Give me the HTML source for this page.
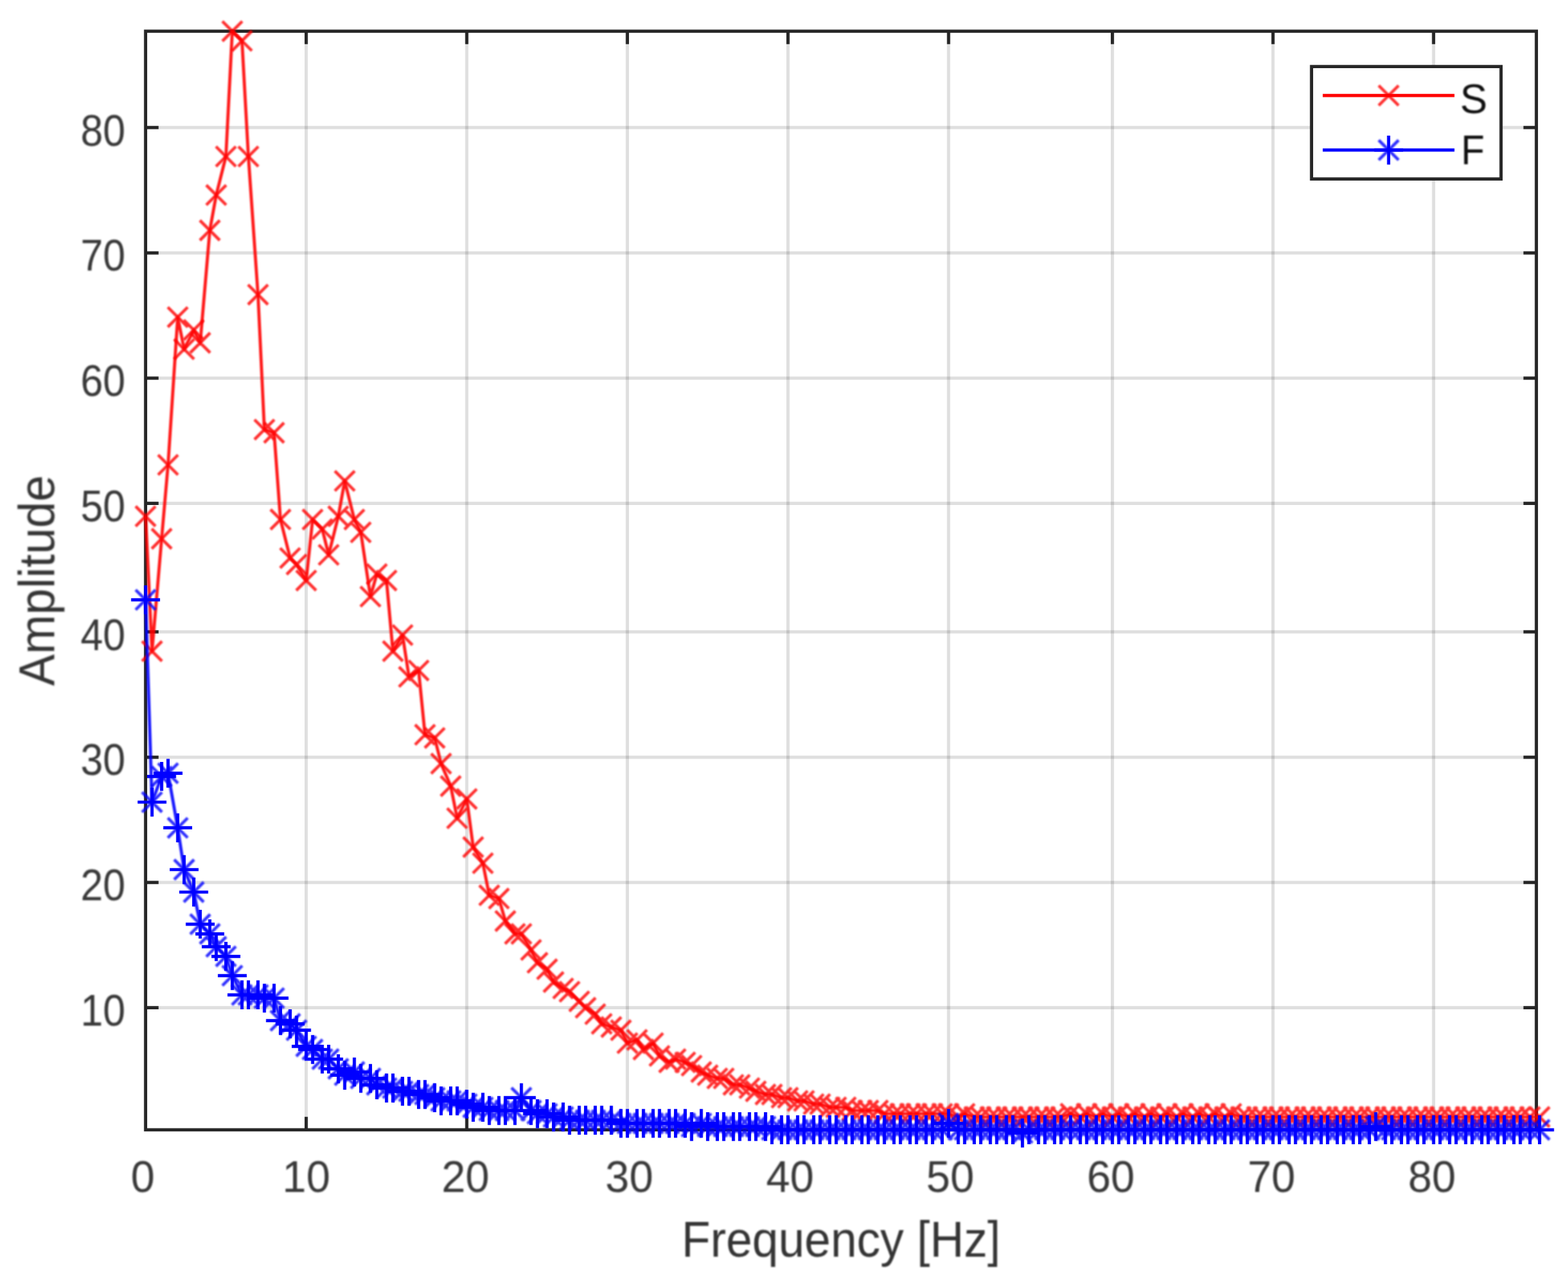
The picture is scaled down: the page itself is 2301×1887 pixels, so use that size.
<!DOCTYPE html>
<html lang="en"><head><meta charset="utf-8"><title>Frequency spectrum</title>
<style>html,body{margin:0;padding:0;background:#fff;}body{width:2301px;height:1887px;overflow:hidden;}svg{display:block;}text{font-family:"Liberation Sans", "DejaVu Sans", sans-serif;}</style>
</head><body>
<svg width="2301" height="1887" viewBox="0 0 2301 1887" role="img" aria-label="Amplitude spectrum of S and F versus frequency">
<rect x="0" y="0" width="2301" height="1887" fill="#ffffff"/>
<defs><filter id="soft" x="0" y="0" width="2301" height="1887" filterUnits="userSpaceOnUse"><feGaussianBlur stdDeviation="1.3"/></filter><filter id="softt" x="0" y="0" width="2301" height="1887" filterUnits="userSpaceOnUse"><feGaussianBlur stdDeviation="1.0"/></filter></defs>
<path d="M449.32 45.80V1657.82M685.00 45.80V1657.82M920.67 45.80V1657.82M1156.35 45.80V1657.82M1392.03 45.80V1657.82M1632.41 45.80V1657.82M1868.09 45.80V1657.82M2103.76 45.80V1657.82" stroke="#262626" stroke-opacity="0.15" stroke-width="4.71" fill="none"/>
<path d="M213.65 187.20H2254.60M213.65 371.03H2254.60M213.65 554.86H2254.60M213.65 738.68H2254.60M213.65 927.22H2254.60M213.65 1111.05H2254.60M213.65 1294.88H2254.60M213.65 1478.70H2254.60" stroke="#262626" stroke-opacity="0.15" stroke-width="4.71" fill="none"/>
<path d="M449.32 1657.82v-19.00M449.32 45.80v19.00M685.00 1657.82v-19.00M685.00 45.80v19.00M920.67 1657.82v-19.00M920.67 45.80v19.00M1156.35 1657.82v-19.00M1156.35 45.80v19.00M1392.03 1657.82v-19.00M1392.03 45.80v19.00M1632.41 1657.82v-19.00M1632.41 45.80v19.00M1868.09 1657.82v-19.00M1868.09 45.80v19.00M2103.76 1657.82v-19.00M2103.76 45.80v19.00M213.65 187.20h19.00M2254.60 187.20h-19.00M213.65 371.03h19.00M2254.60 371.03h-19.00M213.65 554.86h19.00M2254.60 554.86h-19.00M213.65 738.68h19.00M2254.60 738.68h-19.00M213.65 927.22h19.00M2254.60 927.22h-19.00M213.65 1111.05h19.00M2254.60 1111.05h-19.00M213.65 1294.88h19.00M2254.60 1294.88h-19.00M213.65 1478.70h19.00M2254.60 1478.70h-19.00" stroke="#262626" stroke-width="4.71" fill="none"/>
<rect x="213.65" y="45.80" width="2040.95" height="1612.02" fill="none" stroke="#262626" stroke-width="4.71"/>
<g fill="#262626" fill-opacity="0.92" font-size="65.40" filter="url(#softt)">
<text transform="translate(209.65 1748.90) scale(0.965 1)" text-anchor="middle">0</text>
<text transform="translate(449.43 1748.90) scale(0.965 1)" text-anchor="middle">10</text>
<text transform="translate(683.10 1748.90) scale(0.965 1)" text-anchor="middle">20</text>
<text transform="translate(923.38 1748.90) scale(0.965 1)" text-anchor="middle">30</text>
<text transform="translate(1159.35 1748.90) scale(0.965 1)" text-anchor="middle">40</text>
<text transform="translate(1394.43 1748.90) scale(0.965 1)" text-anchor="middle">50</text>
<text transform="translate(1630.01 1748.90) scale(0.965 1)" text-anchor="middle">60</text>
<text transform="translate(1865.79 1748.90) scale(0.965 1)" text-anchor="middle">70</text>
<text transform="translate(2101.36 1748.90) scale(0.965 1)" text-anchor="middle">80</text>
<text transform="translate(184.00 213.60) scale(0.905 1)" text-anchor="end">80</text>
<text transform="translate(184.00 397.43) scale(0.905 1)" text-anchor="end">70</text>
<text transform="translate(184.00 581.26) scale(0.905 1)" text-anchor="end">60</text>
<text transform="translate(184.00 765.08) scale(0.905 1)" text-anchor="end">50</text>
<text transform="translate(184.00 953.62) scale(0.905 1)" text-anchor="end">40</text>
<text transform="translate(184.00 1137.45) scale(0.905 1)" text-anchor="end">30</text>
<text transform="translate(184.00 1321.28) scale(0.905 1)" text-anchor="end">20</text>
<text transform="translate(184.00 1505.10) scale(0.905 1)" text-anchor="end">10</text>
</g>
<g fill="#262626" fill-opacity="0.94" font-size="73.20" filter="url(#softt)">
<text transform="translate(1234.20 1843.70) scale(0.943 1)" text-anchor="middle">Frequency [Hz]</text>
<text transform="translate(79.60 851.80) rotate(-90) scale(0.950 1)" text-anchor="middle">Amplitude</text>
</g>
<path d="M213.7 757.5L223.1 955.5L237.2 790.5L246.6 682.1L260.8 465.3L270.2 512.4L284.4 484.2L293.8 503.0L307.9 338.0L317.3 286.2L331.5 229.6L340.9 45.8L355.1 59.9L364.5 229.6L378.6 432.3L388.0 630.3L402.2 635.0L411.6 762.3L425.8 818.8L435.2 828.2L449.3 851.8L458.8 762.3L472.9 776.4L482.3 814.1L496.5 757.5L505.9 705.7L520.0 762.3L529.5 781.1L543.6 875.4L553.0 842.4L567.2 851.8L576.6 955.5L590.7 931.9L600.2 993.2L614.3 983.8L623.7 1078.1L637.9 1082.8L647.3 1120.5L661.4 1153.5L670.9 1200.6L685.0 1172.3L694.4 1243.0L708.6 1266.6L718.0 1313.7L732.1 1318.4L741.6 1351.4L755.7 1370.3L765.1 1370.3L779.3 1393.9L788.7 1412.7L802.8 1422.1L812.3 1441.0L826.4 1450.4L835.8 1455.1L850.0 1469.3L859.4 1478.7L873.5 1488.1L883.0 1502.3L897.1 1507.0L911.2 1511.7L920.7 1530.6L934.8 1525.8L944.2 1540.0L958.4 1530.6L967.8 1549.4L982.0 1558.8L991.4 1554.1L1005.5 1558.8L1014.9 1563.5L1029.1 1573.0L1038.5 1577.7L1052.7 1582.4L1062.1 1582.4L1076.2 1591.8L1085.6 1591.8L1099.8 1596.5L1109.2 1601.3L1123.4 1606.0L1132.8 1606.0L1146.9 1610.7L1156.3 1610.7L1170.5 1615.4L1179.9 1615.4L1194.1 1620.1L1203.5 1620.1L1217.6 1624.8L1227.1 1624.8L1241.2 1624.8L1250.6 1629.5L1264.8 1629.5L1274.2 1629.5L1288.3 1629.5L1297.8 1634.2L1311.9 1634.2L1321.3 1634.2L1335.5 1634.2L1344.9 1634.2L1359.0 1634.2L1368.5 1634.2L1382.6 1634.2L1392.0 1634.2L1406.2 1639.0L1415.6 1634.2L1429.7 1639.0L1439.2 1639.0L1453.3 1639.0L1462.7 1639.0L1476.9 1639.0L1486.3 1639.0L1500.4 1639.0L1509.9 1639.0L1524.0 1639.0L1533.4 1639.0L1547.6 1639.0L1557.0 1639.0L1571.1 1634.2L1585.3 1639.0L1594.7 1634.2L1608.8 1639.0L1618.3 1634.2L1632.4 1639.0L1641.8 1634.2L1656.0 1639.0L1665.4 1634.2L1679.5 1639.0L1689.0 1634.2L1703.1 1639.0L1712.5 1634.2L1726.7 1639.0L1736.1 1634.2L1750.3 1639.0L1759.7 1634.2L1773.8 1639.0L1783.2 1634.2L1797.4 1639.0L1806.8 1634.2L1821.0 1639.0L1830.4 1639.0L1844.5 1639.0L1853.9 1639.0L1868.1 1639.0L1877.5 1639.0L1891.7 1639.0L1901.1 1639.0L1915.2 1639.0L1924.7 1639.0L1938.8 1639.0L1948.2 1639.0L1962.4 1639.0L1971.8 1639.0L1985.9 1639.0L1995.4 1639.0L2009.5 1639.0L2018.9 1639.0L2033.1 1639.0L2042.5 1639.0L2056.6 1639.0L2066.1 1639.0L2080.2 1639.0L2089.6 1639.0L2103.8 1639.0L2113.2 1639.0L2127.3 1639.0L2136.8 1639.0L2150.9 1639.0L2160.3 1639.0L2174.5 1639.0L2183.9 1639.0L2198.0 1639.0L2207.5 1639.0L2221.6 1639.0L2231.0 1639.0L2245.2 1639.0L2259.3 1639.0" stroke="#ff0000" stroke-width="4.6" stroke-opacity="0.9" fill="none" stroke-linejoin="round" filter="url(#soft)"/>
<path d="M199.0 742.9l29.2 29.2M199.0 772.2l29.2 -29.2M208.5 940.9l29.2 29.2M208.5 970.1l29.2 -29.2M222.6 775.9l29.2 29.2M222.6 805.1l29.2 -29.2M232.0 667.5l29.2 29.2M232.0 696.7l29.2 -29.2M246.2 450.7l29.2 29.2M246.2 479.9l29.2 -29.2M255.6 497.8l29.2 29.2M255.6 527.0l29.2 -29.2M269.7 469.5l29.2 29.2M269.7 498.8l29.2 -29.2M279.2 488.4l29.2 29.2M279.2 517.6l29.2 -29.2M293.3 323.4l29.2 29.2M293.3 352.6l29.2 -29.2M302.7 271.6l29.2 29.2M302.7 300.8l29.2 -29.2M316.9 215.0l29.2 29.2M316.9 244.2l29.2 -29.2M326.3 31.2l29.2 29.2M326.3 60.4l29.2 -29.2M340.4 45.3l29.2 29.2M340.4 74.6l29.2 -29.2M349.9 215.0l29.2 29.2M349.9 244.2l29.2 -29.2M364.0 417.7l29.2 29.2M364.0 446.9l29.2 -29.2M373.4 615.7l29.2 29.2M373.4 644.9l29.2 -29.2M387.6 620.4l29.2 29.2M387.6 649.6l29.2 -29.2M397.0 747.6l29.2 29.2M397.0 776.9l29.2 -29.2M411.1 804.2l29.2 29.2M411.1 833.4l29.2 -29.2M420.6 813.6l29.2 29.2M420.6 842.9l29.2 -29.2M434.7 837.2l29.2 29.2M434.7 866.4l29.2 -29.2M444.1 747.6l29.2 29.2M444.1 776.9l29.2 -29.2M458.3 761.8l29.2 29.2M458.3 791.0l29.2 -29.2M467.7 799.5l29.2 29.2M467.7 828.7l29.2 -29.2M481.8 742.9l29.2 29.2M481.8 772.2l29.2 -29.2M491.3 691.1l29.2 29.2M491.3 720.3l29.2 -29.2M505.4 747.6l29.2 29.2M505.4 776.9l29.2 -29.2M514.8 766.5l29.2 29.2M514.8 795.7l29.2 -29.2M529.0 860.8l29.2 29.2M529.0 890.0l29.2 -29.2M538.4 827.8l29.2 29.2M538.4 857.0l29.2 -29.2M552.6 837.2l29.2 29.2M552.6 866.4l29.2 -29.2M562.0 940.9l29.2 29.2M562.0 970.1l29.2 -29.2M576.1 917.3l29.2 29.2M576.1 946.5l29.2 -29.2M585.5 978.6l29.2 29.2M585.5 1007.8l29.2 -29.2M599.7 969.2l29.2 29.2M599.7 998.4l29.2 -29.2M609.1 1063.4l29.2 29.2M609.1 1092.7l29.2 -29.2M623.3 1068.2l29.2 29.2M623.3 1097.4l29.2 -29.2M632.7 1105.9l29.2 29.2M632.7 1135.1l29.2 -29.2M646.8 1138.9l29.2 29.2M646.8 1168.1l29.2 -29.2M656.2 1186.0l29.2 29.2M656.2 1215.2l29.2 -29.2M670.4 1157.7l29.2 29.2M670.4 1186.9l29.2 -29.2M679.8 1228.4l29.2 29.2M679.8 1257.6l29.2 -29.2M694.0 1252.0l29.2 29.2M694.0 1281.2l29.2 -29.2M703.4 1299.1l29.2 29.2M703.4 1328.3l29.2 -29.2M717.5 1303.8l29.2 29.2M717.5 1333.1l29.2 -29.2M727.0 1336.8l29.2 29.2M727.0 1366.1l29.2 -29.2M741.1 1355.7l29.2 29.2M741.1 1384.9l29.2 -29.2M750.5 1355.7l29.2 29.2M750.5 1384.9l29.2 -29.2M764.7 1379.2l29.2 29.2M764.7 1408.5l29.2 -29.2M774.1 1398.1l29.2 29.2M774.1 1427.3l29.2 -29.2M788.2 1407.5l29.2 29.2M788.2 1436.8l29.2 -29.2M797.7 1426.4l29.2 29.2M797.7 1455.6l29.2 -29.2M811.8 1435.8l29.2 29.2M811.8 1465.0l29.2 -29.2M821.2 1440.5l29.2 29.2M821.2 1469.7l29.2 -29.2M835.4 1454.7l29.2 29.2M835.4 1483.9l29.2 -29.2M844.8 1464.1l29.2 29.2M844.8 1493.3l29.2 -29.2M858.9 1473.5l29.2 29.2M858.9 1502.7l29.2 -29.2M868.4 1487.7l29.2 29.2M868.4 1516.9l29.2 -29.2M882.5 1492.4l29.2 29.2M882.5 1521.6l29.2 -29.2M896.6 1497.1l29.2 29.2M896.6 1526.3l29.2 -29.2M906.1 1515.9l29.2 29.2M906.1 1545.2l29.2 -29.2M920.2 1511.2l29.2 29.2M920.2 1540.5l29.2 -29.2M929.6 1525.4l29.2 29.2M929.6 1554.6l29.2 -29.2M943.8 1515.9l29.2 29.2M943.8 1545.2l29.2 -29.2M953.2 1534.8l29.2 29.2M953.2 1564.0l29.2 -29.2M967.3 1544.2l29.2 29.2M967.3 1573.4l29.2 -29.2M976.8 1539.5l29.2 29.2M976.8 1568.7l29.2 -29.2M990.9 1544.2l29.2 29.2M990.9 1573.4l29.2 -29.2M1000.3 1548.9l29.2 29.2M1000.3 1578.2l29.2 -29.2M1014.5 1558.4l29.2 29.2M1014.5 1587.6l29.2 -29.2M1023.9 1563.1l29.2 29.2M1023.9 1592.3l29.2 -29.2M1038.0 1567.8l29.2 29.2M1038.0 1597.0l29.2 -29.2M1047.5 1567.8l29.2 29.2M1047.5 1597.0l29.2 -29.2M1061.6 1577.2l29.2 29.2M1061.6 1606.4l29.2 -29.2M1071.0 1577.2l29.2 29.2M1071.0 1606.4l29.2 -29.2M1085.2 1581.9l29.2 29.2M1085.2 1611.2l29.2 -29.2M1094.6 1586.6l29.2 29.2M1094.6 1615.9l29.2 -29.2M1108.7 1591.4l29.2 29.2M1108.7 1620.6l29.2 -29.2M1118.2 1591.4l29.2 29.2M1118.2 1620.6l29.2 -29.2M1132.3 1596.1l29.2 29.2M1132.3 1625.3l29.2 -29.2M1141.7 1596.1l29.2 29.2M1141.7 1625.3l29.2 -29.2M1155.9 1600.8l29.2 29.2M1155.9 1630.0l29.2 -29.2M1165.3 1600.8l29.2 29.2M1165.3 1630.0l29.2 -29.2M1179.4 1605.5l29.2 29.2M1179.4 1634.7l29.2 -29.2M1188.9 1605.5l29.2 29.2M1188.9 1634.7l29.2 -29.2M1203.0 1610.2l29.2 29.2M1203.0 1639.4l29.2 -29.2M1212.4 1610.2l29.2 29.2M1212.4 1639.4l29.2 -29.2M1226.6 1610.2l29.2 29.2M1226.6 1639.4l29.2 -29.2M1236.0 1614.9l29.2 29.2M1236.0 1644.1l29.2 -29.2M1250.1 1614.9l29.2 29.2M1250.1 1644.1l29.2 -29.2M1259.6 1614.9l29.2 29.2M1259.6 1644.1l29.2 -29.2M1273.7 1614.9l29.2 29.2M1273.7 1644.1l29.2 -29.2M1283.1 1619.6l29.2 29.2M1283.1 1648.9l29.2 -29.2M1297.3 1619.6l29.2 29.2M1297.3 1648.9l29.2 -29.2M1306.7 1619.6l29.2 29.2M1306.7 1648.9l29.2 -29.2M1320.9 1619.6l29.2 29.2M1320.9 1648.9l29.2 -29.2M1330.3 1619.6l29.2 29.2M1330.3 1648.9l29.2 -29.2M1344.4 1619.6l29.2 29.2M1344.4 1648.9l29.2 -29.2M1353.8 1619.6l29.2 29.2M1353.8 1648.9l29.2 -29.2M1368.0 1619.6l29.2 29.2M1368.0 1648.9l29.2 -29.2M1377.4 1619.6l29.2 29.2M1377.4 1648.9l29.2 -29.2M1391.6 1624.4l29.2 29.2M1391.6 1653.6l29.2 -29.2M1401.0 1619.6l29.2 29.2M1401.0 1648.9l29.2 -29.2M1415.1 1624.4l29.2 29.2M1415.1 1653.6l29.2 -29.2M1424.5 1624.4l29.2 29.2M1424.5 1653.6l29.2 -29.2M1438.7 1624.4l29.2 29.2M1438.7 1653.6l29.2 -29.2M1448.1 1624.4l29.2 29.2M1448.1 1653.6l29.2 -29.2M1462.3 1624.4l29.2 29.2M1462.3 1653.6l29.2 -29.2M1471.7 1624.4l29.2 29.2M1471.7 1653.6l29.2 -29.2M1485.8 1624.4l29.2 29.2M1485.8 1653.6l29.2 -29.2M1495.3 1624.4l29.2 29.2M1495.3 1653.6l29.2 -29.2M1509.4 1624.4l29.2 29.2M1509.4 1653.6l29.2 -29.2M1518.8 1624.4l29.2 29.2M1518.8 1653.6l29.2 -29.2M1533.0 1624.4l29.2 29.2M1533.0 1653.6l29.2 -29.2M1542.4 1624.4l29.2 29.2M1542.4 1653.6l29.2 -29.2M1556.5 1619.6l29.2 29.2M1556.5 1648.9l29.2 -29.2M1570.7 1624.4l29.2 29.2M1570.7 1653.6l29.2 -29.2M1580.1 1619.6l29.2 29.2M1580.1 1648.9l29.2 -29.2M1594.2 1624.4l29.2 29.2M1594.2 1653.6l29.2 -29.2M1603.7 1619.6l29.2 29.2M1603.7 1648.9l29.2 -29.2M1617.8 1624.4l29.2 29.2M1617.8 1653.6l29.2 -29.2M1627.2 1619.6l29.2 29.2M1627.2 1648.9l29.2 -29.2M1641.4 1624.4l29.2 29.2M1641.4 1653.6l29.2 -29.2M1650.8 1619.6l29.2 29.2M1650.8 1648.9l29.2 -29.2M1664.9 1624.4l29.2 29.2M1664.9 1653.6l29.2 -29.2M1674.4 1619.6l29.2 29.2M1674.4 1648.9l29.2 -29.2M1688.5 1624.4l29.2 29.2M1688.5 1653.6l29.2 -29.2M1697.9 1619.6l29.2 29.2M1697.9 1648.9l29.2 -29.2M1712.1 1624.4l29.2 29.2M1712.1 1653.6l29.2 -29.2M1721.5 1619.6l29.2 29.2M1721.5 1648.9l29.2 -29.2M1735.6 1624.4l29.2 29.2M1735.6 1653.6l29.2 -29.2M1745.1 1619.6l29.2 29.2M1745.1 1648.9l29.2 -29.2M1759.2 1624.4l29.2 29.2M1759.2 1653.6l29.2 -29.2M1768.6 1619.6l29.2 29.2M1768.6 1648.9l29.2 -29.2M1782.8 1624.4l29.2 29.2M1782.8 1653.6l29.2 -29.2M1792.2 1619.6l29.2 29.2M1792.2 1648.9l29.2 -29.2M1806.3 1624.4l29.2 29.2M1806.3 1653.6l29.2 -29.2M1815.8 1624.4l29.2 29.2M1815.8 1653.6l29.2 -29.2M1829.9 1624.4l29.2 29.2M1829.9 1653.6l29.2 -29.2M1839.3 1624.4l29.2 29.2M1839.3 1653.6l29.2 -29.2M1853.5 1624.4l29.2 29.2M1853.5 1653.6l29.2 -29.2M1862.9 1624.4l29.2 29.2M1862.9 1653.6l29.2 -29.2M1877.0 1624.4l29.2 29.2M1877.0 1653.6l29.2 -29.2M1886.5 1624.4l29.2 29.2M1886.5 1653.6l29.2 -29.2M1900.6 1624.4l29.2 29.2M1900.6 1653.6l29.2 -29.2M1910.0 1624.4l29.2 29.2M1910.0 1653.6l29.2 -29.2M1924.2 1624.4l29.2 29.2M1924.2 1653.6l29.2 -29.2M1933.6 1624.4l29.2 29.2M1933.6 1653.6l29.2 -29.2M1947.7 1624.4l29.2 29.2M1947.7 1653.6l29.2 -29.2M1957.2 1624.4l29.2 29.2M1957.2 1653.6l29.2 -29.2M1971.3 1624.4l29.2 29.2M1971.3 1653.6l29.2 -29.2M1980.7 1624.4l29.2 29.2M1980.7 1653.6l29.2 -29.2M1994.9 1624.4l29.2 29.2M1994.9 1653.6l29.2 -29.2M2004.3 1624.4l29.2 29.2M2004.3 1653.6l29.2 -29.2M2018.4 1624.4l29.2 29.2M2018.4 1653.6l29.2 -29.2M2027.9 1624.4l29.2 29.2M2027.9 1653.6l29.2 -29.2M2042.0 1624.4l29.2 29.2M2042.0 1653.6l29.2 -29.2M2051.4 1624.4l29.2 29.2M2051.4 1653.6l29.2 -29.2M2065.6 1624.4l29.2 29.2M2065.6 1653.6l29.2 -29.2M2075.0 1624.4l29.2 29.2M2075.0 1653.6l29.2 -29.2M2089.2 1624.4l29.2 29.2M2089.2 1653.6l29.2 -29.2M2098.6 1624.4l29.2 29.2M2098.6 1653.6l29.2 -29.2M2112.7 1624.4l29.2 29.2M2112.7 1653.6l29.2 -29.2M2122.1 1624.4l29.2 29.2M2122.1 1653.6l29.2 -29.2M2136.3 1624.4l29.2 29.2M2136.3 1653.6l29.2 -29.2M2145.7 1624.4l29.2 29.2M2145.7 1653.6l29.2 -29.2M2159.9 1624.4l29.2 29.2M2159.9 1653.6l29.2 -29.2M2169.3 1624.4l29.2 29.2M2169.3 1653.6l29.2 -29.2M2183.4 1624.4l29.2 29.2M2183.4 1653.6l29.2 -29.2M2192.8 1624.4l29.2 29.2M2192.8 1653.6l29.2 -29.2M2207.0 1624.4l29.2 29.2M2207.0 1653.6l29.2 -29.2M2216.4 1624.4l29.2 29.2M2216.4 1653.6l29.2 -29.2M2230.6 1624.4l29.2 29.2M2230.6 1653.6l29.2 -29.2M2244.7 1624.4l29.2 29.2M2244.7 1653.6l29.2 -29.2" stroke="#ff0000" stroke-width="4.4" stroke-opacity="0.82" fill="none" filter="url(#soft)"/>
<path d="M213.7 880.1L223.1 1177.0L237.2 1139.3L246.6 1134.6L260.8 1214.7L270.2 1276.0L284.4 1309.0L293.8 1356.2L307.9 1370.3L317.3 1389.1L331.5 1403.3L340.9 1431.6L355.1 1459.8L364.5 1459.8L378.6 1459.8L388.0 1464.6L402.2 1464.6L411.6 1497.6L425.8 1502.3L435.2 1511.7L449.3 1535.3L458.8 1540.0L472.9 1554.1L482.3 1554.1L496.5 1568.3L505.9 1577.7L520.0 1573.0L529.5 1582.4L543.6 1582.4L553.0 1591.8L567.2 1596.5L576.6 1596.5L590.7 1601.3L600.2 1601.3L614.3 1606.0L623.7 1606.0L637.9 1610.7L647.3 1615.4L661.4 1615.4L670.9 1615.4L685.0 1620.1L694.4 1624.8L708.6 1624.8L718.0 1629.5L732.1 1629.5L741.6 1629.5L755.7 1629.5L765.1 1610.7L779.3 1629.5L788.7 1634.2L802.8 1634.2L812.3 1639.0L826.4 1639.0L835.8 1643.7L850.0 1643.7L859.4 1643.7L873.5 1643.7L883.0 1643.7L897.1 1643.7L911.2 1648.4L920.7 1648.4L934.8 1648.4L944.2 1648.4L958.4 1648.4L967.8 1648.4L982.0 1648.4L991.4 1648.4L1005.5 1648.4L1014.9 1653.1L1029.1 1648.4L1038.5 1653.1L1052.7 1653.1L1062.1 1653.1L1076.2 1653.1L1085.6 1653.1L1099.8 1653.1L1109.2 1653.1L1123.4 1653.1L1132.8 1657.8L1146.9 1657.8L1156.3 1657.8L1170.5 1657.8L1179.9 1657.8L1194.1 1657.8L1203.5 1657.8L1217.6 1657.8L1227.1 1657.8L1241.2 1657.8L1250.6 1657.8L1264.8 1657.8L1274.2 1657.8L1288.3 1657.8L1297.8 1657.8L1311.9 1657.8L1321.3 1657.8L1335.5 1657.8L1344.9 1657.8L1359.0 1657.8L1368.5 1657.8L1382.6 1657.8L1392.0 1648.4L1406.2 1657.8L1415.6 1657.8L1429.7 1657.8L1439.2 1657.8L1453.3 1657.8L1462.7 1657.8L1476.9 1657.8L1486.3 1657.8L1500.4 1662.5L1509.9 1657.8L1524.0 1657.8L1533.4 1657.8L1547.6 1657.8L1557.0 1657.8L1571.1 1657.8L1585.3 1657.8L1594.7 1657.8L1608.8 1657.8L1618.3 1657.8L1632.4 1657.8L1641.8 1657.8L1656.0 1657.8L1665.4 1657.8L1679.5 1657.8L1689.0 1657.8L1703.1 1657.8L1712.5 1657.8L1726.7 1657.8L1736.1 1657.8L1750.3 1657.8L1759.7 1657.8L1773.8 1657.8L1783.2 1657.8L1797.4 1657.8L1806.8 1657.8L1821.0 1657.8L1830.4 1657.8L1844.5 1657.8L1853.9 1657.8L1868.1 1657.8L1877.5 1657.8L1891.7 1657.8L1901.1 1657.8L1915.2 1657.8L1924.7 1657.8L1938.8 1657.8L1948.2 1657.8L1962.4 1657.8L1971.8 1657.8L1985.9 1657.8L1995.4 1657.8L2009.5 1657.8L2018.9 1653.1L2033.1 1657.8L2042.5 1657.8L2056.6 1657.8L2066.1 1657.8L2080.2 1657.8L2089.6 1657.8L2103.8 1657.8L2113.2 1657.8L2127.3 1657.8L2136.8 1657.8L2150.9 1657.8L2160.3 1657.8L2174.5 1657.8L2183.9 1657.8L2198.0 1657.8L2207.5 1657.8L2221.6 1657.8L2231.0 1657.8L2245.2 1657.8L2259.3 1657.8" stroke="#0000ff" stroke-width="4.6" stroke-opacity="0.9" fill="none" stroke-linejoin="round" filter="url(#soft)"/>
<path d="M199.0 865.5l29.2 29.2M199.0 894.7l29.2 -29.2M208.5 1162.4l29.2 29.2M208.5 1191.7l29.2 -29.2M222.6 1124.7l29.2 29.2M222.6 1153.9l29.2 -29.2M232.0 1120.0l29.2 29.2M232.0 1149.2l29.2 -29.2M246.2 1200.1l29.2 29.2M246.2 1229.4l29.2 -29.2M255.6 1261.4l29.2 29.2M255.6 1290.6l29.2 -29.2M269.7 1294.4l29.2 29.2M269.7 1323.6l29.2 -29.2M279.2 1341.5l29.2 29.2M279.2 1370.8l29.2 -29.2M293.3 1355.7l29.2 29.2M293.3 1384.9l29.2 -29.2M302.7 1374.5l29.2 29.2M302.7 1403.8l29.2 -29.2M316.9 1388.7l29.2 29.2M316.9 1417.9l29.2 -29.2M326.3 1417.0l29.2 29.2M326.3 1446.2l29.2 -29.2M340.4 1445.2l29.2 29.2M340.4 1474.5l29.2 -29.2M349.9 1445.2l29.2 29.2M349.9 1474.5l29.2 -29.2M364.0 1445.2l29.2 29.2M364.0 1474.5l29.2 -29.2M373.4 1450.0l29.2 29.2M373.4 1479.2l29.2 -29.2M387.6 1450.0l29.2 29.2M387.6 1479.2l29.2 -29.2M397.0 1482.9l29.2 29.2M397.0 1512.2l29.2 -29.2M411.1 1487.7l29.2 29.2M411.1 1516.9l29.2 -29.2M420.6 1497.1l29.2 29.2M420.6 1526.3l29.2 -29.2M434.7 1520.7l29.2 29.2M434.7 1549.9l29.2 -29.2M444.1 1525.4l29.2 29.2M444.1 1554.6l29.2 -29.2M458.3 1539.5l29.2 29.2M458.3 1568.7l29.2 -29.2M467.7 1539.5l29.2 29.2M467.7 1568.7l29.2 -29.2M481.8 1553.6l29.2 29.2M481.8 1582.9l29.2 -29.2M491.3 1563.1l29.2 29.2M491.3 1592.3l29.2 -29.2M505.4 1558.4l29.2 29.2M505.4 1587.6l29.2 -29.2M514.8 1567.8l29.2 29.2M514.8 1597.0l29.2 -29.2M529.0 1567.8l29.2 29.2M529.0 1597.0l29.2 -29.2M538.4 1577.2l29.2 29.2M538.4 1606.4l29.2 -29.2M552.6 1581.9l29.2 29.2M552.6 1611.2l29.2 -29.2M562.0 1581.9l29.2 29.2M562.0 1611.2l29.2 -29.2M576.1 1586.6l29.2 29.2M576.1 1615.9l29.2 -29.2M585.5 1586.6l29.2 29.2M585.5 1615.9l29.2 -29.2M599.7 1591.4l29.2 29.2M599.7 1620.6l29.2 -29.2M609.1 1591.4l29.2 29.2M609.1 1620.6l29.2 -29.2M623.3 1596.1l29.2 29.2M623.3 1625.3l29.2 -29.2M632.7 1600.8l29.2 29.2M632.7 1630.0l29.2 -29.2M646.8 1600.8l29.2 29.2M646.8 1630.0l29.2 -29.2M656.2 1600.8l29.2 29.2M656.2 1630.0l29.2 -29.2M670.4 1605.5l29.2 29.2M670.4 1634.7l29.2 -29.2M679.8 1610.2l29.2 29.2M679.8 1639.4l29.2 -29.2M694.0 1610.2l29.2 29.2M694.0 1639.4l29.2 -29.2M703.4 1614.9l29.2 29.2M703.4 1644.1l29.2 -29.2M717.5 1614.9l29.2 29.2M717.5 1644.1l29.2 -29.2M727.0 1614.9l29.2 29.2M727.0 1644.1l29.2 -29.2M741.1 1614.9l29.2 29.2M741.1 1644.1l29.2 -29.2M750.5 1596.1l29.2 29.2M750.5 1625.3l29.2 -29.2M764.7 1614.9l29.2 29.2M764.7 1644.1l29.2 -29.2M774.1 1619.6l29.2 29.2M774.1 1648.9l29.2 -29.2M788.2 1619.6l29.2 29.2M788.2 1648.9l29.2 -29.2M797.7 1624.4l29.2 29.2M797.7 1653.6l29.2 -29.2M811.8 1624.4l29.2 29.2M811.8 1653.6l29.2 -29.2M821.2 1629.1l29.2 29.2M821.2 1658.3l29.2 -29.2M835.4 1629.1l29.2 29.2M835.4 1658.3l29.2 -29.2M844.8 1629.1l29.2 29.2M844.8 1658.3l29.2 -29.2M858.9 1629.1l29.2 29.2M858.9 1658.3l29.2 -29.2M868.4 1629.1l29.2 29.2M868.4 1658.3l29.2 -29.2M882.5 1629.1l29.2 29.2M882.5 1658.3l29.2 -29.2M896.6 1633.8l29.2 29.2M896.6 1663.0l29.2 -29.2M906.1 1633.8l29.2 29.2M906.1 1663.0l29.2 -29.2M920.2 1633.8l29.2 29.2M920.2 1663.0l29.2 -29.2M929.6 1633.8l29.2 29.2M929.6 1663.0l29.2 -29.2M943.8 1633.8l29.2 29.2M943.8 1663.0l29.2 -29.2M953.2 1633.8l29.2 29.2M953.2 1663.0l29.2 -29.2M967.3 1633.8l29.2 29.2M967.3 1663.0l29.2 -29.2M976.8 1633.8l29.2 29.2M976.8 1663.0l29.2 -29.2M990.9 1633.8l29.2 29.2M990.9 1663.0l29.2 -29.2M1000.3 1638.5l29.2 29.2M1000.3 1667.7l29.2 -29.2M1014.5 1633.8l29.2 29.2M1014.5 1663.0l29.2 -29.2M1023.9 1638.5l29.2 29.2M1023.9 1667.7l29.2 -29.2M1038.0 1638.5l29.2 29.2M1038.0 1667.7l29.2 -29.2M1047.5 1638.5l29.2 29.2M1047.5 1667.7l29.2 -29.2M1061.6 1638.5l29.2 29.2M1061.6 1667.7l29.2 -29.2M1071.0 1638.5l29.2 29.2M1071.0 1667.7l29.2 -29.2M1085.2 1638.5l29.2 29.2M1085.2 1667.7l29.2 -29.2M1094.6 1638.5l29.2 29.2M1094.6 1667.7l29.2 -29.2M1108.7 1638.5l29.2 29.2M1108.7 1667.7l29.2 -29.2M1118.2 1643.2l29.2 29.2M1118.2 1672.4l29.2 -29.2M1132.3 1643.2l29.2 29.2M1132.3 1672.4l29.2 -29.2M1141.7 1643.2l29.2 29.2M1141.7 1672.4l29.2 -29.2M1155.9 1643.2l29.2 29.2M1155.9 1672.4l29.2 -29.2M1165.3 1643.2l29.2 29.2M1165.3 1672.4l29.2 -29.2M1179.4 1643.2l29.2 29.2M1179.4 1672.4l29.2 -29.2M1188.9 1643.2l29.2 29.2M1188.9 1672.4l29.2 -29.2M1203.0 1643.2l29.2 29.2M1203.0 1672.4l29.2 -29.2M1212.4 1643.2l29.2 29.2M1212.4 1672.4l29.2 -29.2M1226.6 1643.2l29.2 29.2M1226.6 1672.4l29.2 -29.2M1236.0 1643.2l29.2 29.2M1236.0 1672.4l29.2 -29.2M1250.1 1643.2l29.2 29.2M1250.1 1672.4l29.2 -29.2M1259.6 1643.2l29.2 29.2M1259.6 1672.4l29.2 -29.2M1273.7 1643.2l29.2 29.2M1273.7 1672.4l29.2 -29.2M1283.1 1643.2l29.2 29.2M1283.1 1672.4l29.2 -29.2M1297.3 1643.2l29.2 29.2M1297.3 1672.4l29.2 -29.2M1306.7 1643.2l29.2 29.2M1306.7 1672.4l29.2 -29.2M1320.9 1643.2l29.2 29.2M1320.9 1672.4l29.2 -29.2M1330.3 1643.2l29.2 29.2M1330.3 1672.4l29.2 -29.2M1344.4 1643.2l29.2 29.2M1344.4 1672.4l29.2 -29.2M1353.8 1643.2l29.2 29.2M1353.8 1672.4l29.2 -29.2M1368.0 1643.2l29.2 29.2M1368.0 1672.4l29.2 -29.2M1377.4 1633.8l29.2 29.2M1377.4 1663.0l29.2 -29.2M1391.6 1643.2l29.2 29.2M1391.6 1672.4l29.2 -29.2M1401.0 1643.2l29.2 29.2M1401.0 1672.4l29.2 -29.2M1415.1 1643.2l29.2 29.2M1415.1 1672.4l29.2 -29.2M1424.5 1643.2l29.2 29.2M1424.5 1672.4l29.2 -29.2M1438.7 1643.2l29.2 29.2M1438.7 1672.4l29.2 -29.2M1448.1 1643.2l29.2 29.2M1448.1 1672.4l29.2 -29.2M1462.3 1643.2l29.2 29.2M1462.3 1672.4l29.2 -29.2M1471.7 1643.2l29.2 29.2M1471.7 1672.4l29.2 -29.2M1485.8 1647.9l29.2 29.2M1485.8 1677.1l29.2 -29.2M1495.3 1643.2l29.2 29.2M1495.3 1672.4l29.2 -29.2M1509.4 1643.2l29.2 29.2M1509.4 1672.4l29.2 -29.2M1518.8 1643.2l29.2 29.2M1518.8 1672.4l29.2 -29.2M1533.0 1643.2l29.2 29.2M1533.0 1672.4l29.2 -29.2M1542.4 1643.2l29.2 29.2M1542.4 1672.4l29.2 -29.2M1556.5 1643.2l29.2 29.2M1556.5 1672.4l29.2 -29.2M1570.7 1643.2l29.2 29.2M1570.7 1672.4l29.2 -29.2M1580.1 1643.2l29.2 29.2M1580.1 1672.4l29.2 -29.2M1594.2 1643.2l29.2 29.2M1594.2 1672.4l29.2 -29.2M1603.7 1643.2l29.2 29.2M1603.7 1672.4l29.2 -29.2M1617.8 1643.2l29.2 29.2M1617.8 1672.4l29.2 -29.2M1627.2 1643.2l29.2 29.2M1627.2 1672.4l29.2 -29.2M1641.4 1643.2l29.2 29.2M1641.4 1672.4l29.2 -29.2M1650.8 1643.2l29.2 29.2M1650.8 1672.4l29.2 -29.2M1664.9 1643.2l29.2 29.2M1664.9 1672.4l29.2 -29.2M1674.4 1643.2l29.2 29.2M1674.4 1672.4l29.2 -29.2M1688.5 1643.2l29.2 29.2M1688.5 1672.4l29.2 -29.2M1697.9 1643.2l29.2 29.2M1697.9 1672.4l29.2 -29.2M1712.1 1643.2l29.2 29.2M1712.1 1672.4l29.2 -29.2M1721.5 1643.2l29.2 29.2M1721.5 1672.4l29.2 -29.2M1735.6 1643.2l29.2 29.2M1735.6 1672.4l29.2 -29.2M1745.1 1643.2l29.2 29.2M1745.1 1672.4l29.2 -29.2M1759.2 1643.2l29.2 29.2M1759.2 1672.4l29.2 -29.2M1768.6 1643.2l29.2 29.2M1768.6 1672.4l29.2 -29.2M1782.8 1643.2l29.2 29.2M1782.8 1672.4l29.2 -29.2M1792.2 1643.2l29.2 29.2M1792.2 1672.4l29.2 -29.2M1806.3 1643.2l29.2 29.2M1806.3 1672.4l29.2 -29.2M1815.8 1643.2l29.2 29.2M1815.8 1672.4l29.2 -29.2M1829.9 1643.2l29.2 29.2M1829.9 1672.4l29.2 -29.2M1839.3 1643.2l29.2 29.2M1839.3 1672.4l29.2 -29.2M1853.5 1643.2l29.2 29.2M1853.5 1672.4l29.2 -29.2M1862.9 1643.2l29.2 29.2M1862.9 1672.4l29.2 -29.2M1877.0 1643.2l29.2 29.2M1877.0 1672.4l29.2 -29.2M1886.5 1643.2l29.2 29.2M1886.5 1672.4l29.2 -29.2M1900.6 1643.2l29.2 29.2M1900.6 1672.4l29.2 -29.2M1910.0 1643.2l29.2 29.2M1910.0 1672.4l29.2 -29.2M1924.2 1643.2l29.2 29.2M1924.2 1672.4l29.2 -29.2M1933.6 1643.2l29.2 29.2M1933.6 1672.4l29.2 -29.2M1947.7 1643.2l29.2 29.2M1947.7 1672.4l29.2 -29.2M1957.2 1643.2l29.2 29.2M1957.2 1672.4l29.2 -29.2M1971.3 1643.2l29.2 29.2M1971.3 1672.4l29.2 -29.2M1980.7 1643.2l29.2 29.2M1980.7 1672.4l29.2 -29.2M1994.9 1643.2l29.2 29.2M1994.9 1672.4l29.2 -29.2M2004.3 1638.5l29.2 29.2M2004.3 1667.7l29.2 -29.2M2018.4 1643.2l29.2 29.2M2018.4 1672.4l29.2 -29.2M2027.9 1643.2l29.2 29.2M2027.9 1672.4l29.2 -29.2M2042.0 1643.2l29.2 29.2M2042.0 1672.4l29.2 -29.2M2051.4 1643.2l29.2 29.2M2051.4 1672.4l29.2 -29.2M2065.6 1643.2l29.2 29.2M2065.6 1672.4l29.2 -29.2M2075.0 1643.2l29.2 29.2M2075.0 1672.4l29.2 -29.2M2089.2 1643.2l29.2 29.2M2089.2 1672.4l29.2 -29.2M2098.6 1643.2l29.2 29.2M2098.6 1672.4l29.2 -29.2M2112.7 1643.2l29.2 29.2M2112.7 1672.4l29.2 -29.2M2122.1 1643.2l29.2 29.2M2122.1 1672.4l29.2 -29.2M2136.3 1643.2l29.2 29.2M2136.3 1672.4l29.2 -29.2M2145.7 1643.2l29.2 29.2M2145.7 1672.4l29.2 -29.2M2159.9 1643.2l29.2 29.2M2159.9 1672.4l29.2 -29.2M2169.3 1643.2l29.2 29.2M2169.3 1672.4l29.2 -29.2M2183.4 1643.2l29.2 29.2M2183.4 1672.4l29.2 -29.2M2192.8 1643.2l29.2 29.2M2192.8 1672.4l29.2 -29.2M2207.0 1643.2l29.2 29.2M2207.0 1672.4l29.2 -29.2M2216.4 1643.2l29.2 29.2M2216.4 1672.4l29.2 -29.2M2230.6 1643.2l29.2 29.2M2230.6 1672.4l29.2 -29.2M2244.7 1643.2l29.2 29.2M2244.7 1672.4l29.2 -29.2" stroke="#0000ff" stroke-width="4.4" stroke-opacity="0.82" fill="none" filter="url(#soft)"/>
<path d="M213.7 858.9v42.4M192.4 880.1h42.4M223.1 1155.8v42.4M201.9 1177.0h42.4M237.2 1118.1v42.4M216.0 1139.3h42.4M246.6 1113.4v42.4M225.4 1134.6h42.4M260.8 1193.5v42.4M239.6 1214.7h42.4M270.2 1254.8v42.4M249.0 1276.0h42.4M284.4 1287.8v42.4M263.1 1309.0h42.4M293.8 1334.9v42.4M272.6 1356.2h42.4M307.9 1349.1v42.4M286.7 1370.3h42.4M317.3 1367.9v42.4M296.1 1389.1h42.4M331.5 1382.1v42.4M310.3 1403.3h42.4M340.9 1410.4v42.4M319.7 1431.6h42.4M355.1 1438.6v42.4M333.8 1459.8h42.4M364.5 1438.6v42.4M343.3 1459.8h42.4M378.6 1438.6v42.4M357.4 1459.8h42.4M388.0 1443.4v42.4M366.8 1464.6h42.4M402.2 1443.4v42.4M381.0 1464.6h42.4M411.6 1476.3v42.4M390.4 1497.6h42.4M425.8 1481.1v42.4M404.5 1502.3h42.4M435.2 1490.5v42.4M414.0 1511.7h42.4M449.3 1514.1v42.4M428.1 1535.3h42.4M458.8 1518.8v42.4M437.5 1540.0h42.4M472.9 1532.9v42.4M451.7 1554.1h42.4M482.3 1532.9v42.4M461.1 1554.1h42.4M496.5 1547.0v42.4M475.2 1568.3h42.4M505.9 1556.5v42.4M484.7 1577.7h42.4M520.0 1551.8v42.4M498.8 1573.0h42.4M529.5 1561.2v42.4M508.2 1582.4h42.4M543.6 1561.2v42.4M522.4 1582.4h42.4M553.0 1570.6v42.4M531.8 1591.8h42.4M567.2 1575.3v42.4M546.0 1596.5h42.4M576.6 1575.3v42.4M555.4 1596.5h42.4M590.7 1580.0v42.4M569.5 1601.3h42.4M600.2 1580.0v42.4M578.9 1601.3h42.4M614.3 1584.8v42.4M593.1 1606.0h42.4M623.7 1584.8v42.4M602.5 1606.0h42.4M637.9 1589.5v42.4M616.7 1610.7h42.4M647.3 1594.2v42.4M626.1 1615.4h42.4M661.4 1594.2v42.4M640.2 1615.4h42.4M670.9 1594.2v42.4M649.6 1615.4h42.4M685.0 1598.9v42.4M663.8 1620.1h42.4M694.4 1603.6v42.4M673.2 1624.8h42.4M708.6 1603.6v42.4M687.4 1624.8h42.4M718.0 1608.3v42.4M696.8 1629.5h42.4M732.1 1608.3v42.4M710.9 1629.5h42.4M741.6 1608.3v42.4M720.4 1629.5h42.4M755.7 1608.3v42.4M734.5 1629.5h42.4M765.1 1589.5v42.4M743.9 1610.7h42.4M779.3 1608.3v42.4M758.1 1629.5h42.4M788.7 1613.0v42.4M767.5 1634.2h42.4M802.8 1613.0v42.4M781.6 1634.2h42.4M812.3 1617.8v42.4M791.1 1639.0h42.4M826.4 1617.8v42.4M805.2 1639.0h42.4M835.8 1622.5v42.4M814.6 1643.7h42.4M850.0 1622.5v42.4M828.8 1643.7h42.4M859.4 1622.5v42.4M838.2 1643.7h42.4M873.5 1622.5v42.4M852.3 1643.7h42.4M883.0 1622.5v42.4M861.8 1643.7h42.4M897.1 1622.5v42.4M875.9 1643.7h42.4M911.2 1627.2v42.4M890.0 1648.4h42.4M920.7 1627.2v42.4M899.5 1648.4h42.4M934.8 1627.2v42.4M913.6 1648.4h42.4M944.2 1627.2v42.4M923.0 1648.4h42.4M958.4 1627.2v42.4M937.2 1648.4h42.4M967.8 1627.2v42.4M946.6 1648.4h42.4M982.0 1627.2v42.4M960.7 1648.4h42.4M991.4 1627.2v42.4M970.2 1648.4h42.4M1005.5 1627.2v42.4M984.3 1648.4h42.4M1014.9 1631.9v42.4M993.7 1653.1h42.4M1029.1 1627.2v42.4M1007.9 1648.4h42.4M1038.5 1631.9v42.4M1017.3 1653.1h42.4M1052.7 1631.9v42.4M1031.4 1653.1h42.4M1062.1 1631.9v42.4M1040.9 1653.1h42.4M1076.2 1631.9v42.4M1055.0 1653.1h42.4M1085.6 1631.9v42.4M1064.4 1653.1h42.4M1099.8 1631.9v42.4M1078.6 1653.1h42.4M1109.2 1631.9v42.4M1088.0 1653.1h42.4M1123.4 1631.9v42.4M1102.1 1653.1h42.4M1132.8 1636.6v42.4M1111.6 1657.8h42.4M1146.9 1636.6v42.4M1125.7 1657.8h42.4M1156.3 1636.6v42.4M1135.1 1657.8h42.4M1170.5 1636.6v42.4M1149.3 1657.8h42.4M1179.9 1636.6v42.4M1158.7 1657.8h42.4M1194.1 1636.6v42.4M1172.8 1657.8h42.4M1203.5 1636.6v42.4M1182.3 1657.8h42.4M1217.6 1636.6v42.4M1196.4 1657.8h42.4M1227.1 1636.6v42.4M1205.8 1657.8h42.4M1241.2 1636.6v42.4M1220.0 1657.8h42.4M1250.6 1636.6v42.4M1229.4 1657.8h42.4M1264.8 1636.6v42.4M1243.5 1657.8h42.4M1274.2 1636.6v42.4M1253.0 1657.8h42.4M1288.3 1636.6v42.4M1267.1 1657.8h42.4M1297.8 1636.6v42.4M1276.5 1657.8h42.4M1311.9 1636.6v42.4M1290.7 1657.8h42.4M1321.3 1636.6v42.4M1300.1 1657.8h42.4M1335.5 1636.6v42.4M1314.3 1657.8h42.4M1344.9 1636.6v42.4M1323.7 1657.8h42.4M1359.0 1636.6v42.4M1337.8 1657.8h42.4M1368.5 1636.6v42.4M1347.2 1657.8h42.4M1382.6 1636.6v42.4M1361.4 1657.8h42.4M1392.0 1627.2v42.4M1370.8 1648.4h42.4M1406.2 1636.6v42.4M1385.0 1657.8h42.4M1415.6 1636.6v42.4M1394.4 1657.8h42.4M1429.7 1636.6v42.4M1408.5 1657.8h42.4M1439.2 1636.6v42.4M1417.9 1657.8h42.4M1453.3 1636.6v42.4M1432.1 1657.8h42.4M1462.7 1636.6v42.4M1441.5 1657.8h42.4M1476.9 1636.6v42.4M1455.7 1657.8h42.4M1486.3 1636.6v42.4M1465.1 1657.8h42.4M1500.4 1641.3v42.4M1479.2 1662.5h42.4M1509.9 1636.6v42.4M1488.7 1657.8h42.4M1524.0 1636.6v42.4M1502.8 1657.8h42.4M1533.4 1636.6v42.4M1512.2 1657.8h42.4M1547.6 1636.6v42.4M1526.4 1657.8h42.4M1557.0 1636.6v42.4M1535.8 1657.8h42.4M1571.1 1636.6v42.4M1549.9 1657.8h42.4M1585.3 1636.6v42.4M1564.1 1657.8h42.4M1594.7 1636.6v42.4M1573.5 1657.8h42.4M1608.8 1636.6v42.4M1587.6 1657.8h42.4M1618.3 1636.6v42.4M1597.1 1657.8h42.4M1632.4 1636.6v42.4M1611.2 1657.8h42.4M1641.8 1636.6v42.4M1620.6 1657.8h42.4M1656.0 1636.6v42.4M1634.8 1657.8h42.4M1665.4 1636.6v42.4M1644.2 1657.8h42.4M1679.5 1636.6v42.4M1658.3 1657.8h42.4M1689.0 1636.6v42.4M1667.8 1657.8h42.4M1703.1 1636.6v42.4M1681.9 1657.8h42.4M1712.5 1636.6v42.4M1691.3 1657.8h42.4M1726.7 1636.6v42.4M1705.5 1657.8h42.4M1736.1 1636.6v42.4M1714.9 1657.8h42.4M1750.3 1636.6v42.4M1729.0 1657.8h42.4M1759.7 1636.6v42.4M1738.5 1657.8h42.4M1773.8 1636.6v42.4M1752.6 1657.8h42.4M1783.2 1636.6v42.4M1762.0 1657.8h42.4M1797.4 1636.6v42.4M1776.2 1657.8h42.4M1806.8 1636.6v42.4M1785.6 1657.8h42.4M1821.0 1636.6v42.4M1799.7 1657.8h42.4M1830.4 1636.6v42.4M1809.2 1657.8h42.4M1844.5 1636.6v42.4M1823.3 1657.8h42.4M1853.9 1636.6v42.4M1832.7 1657.8h42.4M1868.1 1636.6v42.4M1846.9 1657.8h42.4M1877.5 1636.6v42.4M1856.3 1657.8h42.4M1891.7 1636.6v42.4M1870.4 1657.8h42.4M1901.1 1636.6v42.4M1879.9 1657.8h42.4M1915.2 1636.6v42.4M1894.0 1657.8h42.4M1924.7 1636.6v42.4M1903.4 1657.8h42.4M1938.8 1636.6v42.4M1917.6 1657.8h42.4M1948.2 1636.6v42.4M1927.0 1657.8h42.4M1962.4 1636.6v42.4M1941.1 1657.8h42.4M1971.8 1636.6v42.4M1950.6 1657.8h42.4M1985.9 1636.6v42.4M1964.7 1657.8h42.4M1995.4 1636.6v42.4M1974.1 1657.8h42.4M2009.5 1636.6v42.4M1988.3 1657.8h42.4M2018.9 1631.9v42.4M1997.7 1653.1h42.4M2033.1 1636.6v42.4M2011.9 1657.8h42.4M2042.5 1636.6v42.4M2021.3 1657.8h42.4M2056.6 1636.6v42.4M2035.4 1657.8h42.4M2066.1 1636.6v42.4M2044.8 1657.8h42.4M2080.2 1636.6v42.4M2059.0 1657.8h42.4M2089.6 1636.6v42.4M2068.4 1657.8h42.4M2103.8 1636.6v42.4M2082.6 1657.8h42.4M2113.2 1636.6v42.4M2092.0 1657.8h42.4M2127.3 1636.6v42.4M2106.1 1657.8h42.4M2136.8 1636.6v42.4M2115.5 1657.8h42.4M2150.9 1636.6v42.4M2129.7 1657.8h42.4M2160.3 1636.6v42.4M2139.1 1657.8h42.4M2174.5 1636.6v42.4M2153.3 1657.8h42.4M2183.9 1636.6v42.4M2162.7 1657.8h42.4M2198.0 1636.6v42.4M2176.8 1657.8h42.4M2207.5 1636.6v42.4M2186.2 1657.8h42.4M2221.6 1636.6v42.4M2200.4 1657.8h42.4M2231.0 1636.6v42.4M2209.8 1657.8h42.4M2245.2 1636.6v42.4M2224.0 1657.8h42.4M2259.3 1636.6v42.4M2238.1 1657.8h42.4" stroke="#0000ff" stroke-width="4.71" fill="none"/>
<rect x="1924.65" y="97.65" width="278.10" height="164.97" fill="#ffffff" stroke="#262626" stroke-width="4.71"/>
<path d="M1941.1 140.1H2134.4" stroke="#ff0000" stroke-width="4.71" fill="none"/>
<path d="M2023.2 125.5l29.2 29.2M2023.2 154.7l29.2 -29.2" stroke="#ff0000" stroke-width="4.4" stroke-opacity="0.82" fill="none" filter="url(#soft)"/>
<g filter="url(#softt)"><text transform="translate(2142.5 165.7) scale(1.000 1)" font-size="60.20" fill="#000000" fill-opacity="0.94">S</text></g>
<path d="M1941.1 220.2H2134.4" stroke="#0000ff" stroke-width="4.71" fill="none"/>
<path d="M2023.2 205.6l29.2 29.2M2023.2 234.8l29.2 -29.2" stroke="#0000ff" stroke-width="4.4" stroke-opacity="0.82" fill="none" filter="url(#soft)"/>
<path d="M2037.8 199.0v42.4M2016.6 220.2h42.4" stroke="#0000ff" stroke-width="4.71" fill="none"/>
<g filter="url(#softt)"><text transform="translate(2144.0 240.9) scale(0.940 1)" font-size="60.20" fill="#000000" fill-opacity="0.94">F</text></g>
</svg>
</body></html>
